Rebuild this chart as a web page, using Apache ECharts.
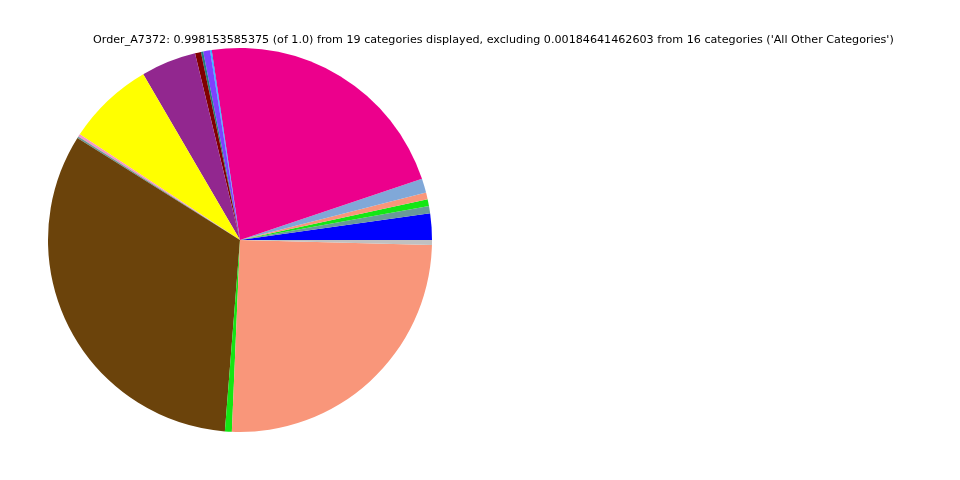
<!DOCTYPE html>
<html>
<head>
<meta charset="utf-8">
<script src="https://cdn.jsdelivr.net/npm/echarts@6/dist/echarts.min.js"></script>
<style>
html,body{margin:0;padding:0;background:#fff;}
#chart{width:960px;height:480px;}
</style>
</head>
<body>
<div id="chart"></div>
<script>
const titleText = "Order_A7372: 0.998153585375 (of 1.0) from 19 categories displayed, excluding 0.00184641462603 from 16 categories ('All Other Categories')";
const categories = ["Cat 01","Cat 02","Cat 03","Cat 04","Cat 05","Cat 06","Cat 07","Cat 08","Cat 09","Cat 10","Cat 11","Cat 12","Cat 13","Cat 14","Cat 15","Cat 16","Cat 17","Cat 18","Cat 19"];
const values = [0.0222,0.0061,0.0058,0.0056,0.0119,0.2219,0.0007,0.0007,0.0058,0.0019,0.0050,0.0464,0.0731,0.0022,0.0014,0.3266,0.0058,0.2525,0.0042];
const colors = ["#0000ff","#6a9a9a","#14e614","#f9967a","#80a8d8","#ec008c","#1e90ff","#00bfff","#8040ff","#1f7f7f","#800000","#92278f","#ffff00","#f49ac2","#6a9a9a","#6b430b","#14e614","#f9967a","#c0c0c0"];

const chart = echarts.init(document.getElementById('chart'));
chart.setOption({
  animation: false,
  title: {
    text: titleText,
    left: 88, top: 30,
    textStyle: {fontFamily: 'DejaVu Sans', fontSize: 11.15, fontWeight: 'normal', color: '#000'}
  },
  series: [{
    type: 'pie',
    center: [240, 240],
    radius: 192,
    startAngle: 0,
    clockwise: false,
    label: {show: false},
    labelLine: {show: false},
    emphasis: {disabled: true},
    itemStyle: {borderWidth: 0},
    data: categories.map((c, i) => ({name: c, value: values[i], itemStyle: {color: colors[i]}}))
  }]
});
</script>
</body>
</html>
